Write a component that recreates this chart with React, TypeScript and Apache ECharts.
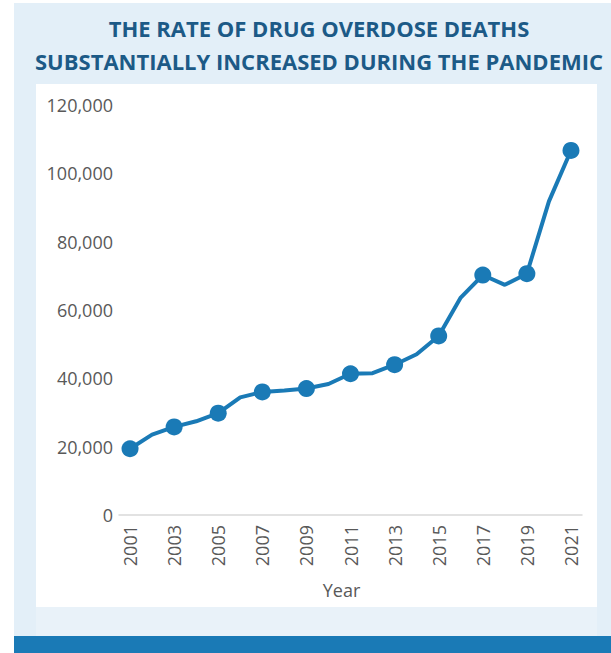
import React, { useEffect, useRef } from "react";
import * as echarts from "echarts";

const years = ["2001","2002","2003","2004","2005","2006","2007","2008","2009","2010","2011","2012","2013","2014","2015","2016","2017","2018","2019","2020","2021"];
const deaths = [19394,23518,25785,27424,29813,34425,36010,36450,37004,38329,41340,41502,43982,47055,52404,63632,70237,67367,70630,91799,106699];
const titleLines = ["THE RATE OF DRUG OVERDOSE DEATHS", "SUBSTANTIALLY INCREASED DURING THE PANDEMIC"];
const yTicks = { min: 0, max: 120000, interval: 20000 };

const BLUE = "#1a7ab6";
const FONT = "'Open Sans', sans-serif";

export default function App() {
  const ref = useRef<HTMLDivElement>(null);
  useEffect(() => {
    const chart = echarts.init(ref.current!, null, { renderer: "svg" });
    chart.setOption({
      animation: false,
      backgroundColor: "#ffffff",
      graphic: [
        { type: "rect", z: -10, shape: { x: 14, y: 3, width: 597, height: 633 }, style: { fill: "#e3eff8" } },
        { type: "rect", z: -9, shape: { x: 36, y: 607, width: 561, height: 29 }, style: { fill: "#e9f2f9" } },
        { type: "rect", z: -9, shape: { x: 36, y: 84, width: 561, height: 523 }, style: { fill: "#ffffff" } },
        { type: "rect", z: -9, shape: { x: 14, y: 636, width: 597, height: 17 }, style: { fill: BLUE } },
        { type: "text", z: 10, x: 319, y: 28, style: { text: titleLines[0], fill: "#1c5a87", font: `bold 22px ${FONT}`, textAlign: "center", textVerticalAlign: "middle" } },
        { type: "text", z: 10, x: 319, y: 61, style: { text: titleLines[1], fill: "#1c5a87", font: `bold 22px ${FONT}`, textAlign: "center", textVerticalAlign: "middle" } },
      ],
      grid: { left: 119, right: 29, top: 105, bottom: 138 },
      xAxis: {
        type: "category",
        data: years,
        boundaryGap: true,
        axisLine: { lineStyle: { color: "#d9d9d9", width: 1.5 } },
        axisTick: { show: false },
        axisLabel: { rotate: 90, interval: 1, margin: 10, color: "#595959", fontSize: 18, fontFamily: FONT },
        name: "Year",
        nameLocation: "middle",
        nameGap: 66,
        nameTextStyle: { color: "#595959", fontSize: 18, fontFamily: FONT, padding: [0, 18, 0, 0] },
      },
      yAxis: {
        type: "value",
        min: yTicks.min,
        max: yTicks.max,
        interval: yTicks.interval,
        splitLine: { show: false },
        axisLine: { show: false },
        axisTick: { show: false },
        axisLabel: {
          margin: 6,
          color: "#595959",
          fontSize: 18,
          fontFamily: FONT,
          formatter: (v: number) => v.toLocaleString("en-US"),
        },
      },
      series: [
        {
          type: "line",
          data: deaths.map((v, i) => (i % 2 === 0 ? { value: v } : { value: v, symbol: "none" })),
          symbol: "circle",
          symbolSize: 17,
          showAllSymbol: true,
          lineStyle: { color: BLUE, width: 4 },
          itemStyle: { color: BLUE },
        },
      ],
    });
    return () => chart.dispose();
  }, []);
  return <div ref={ref} style={{ position: "fixed", left: 0, top: 0, width: 611, height: 653 }} />;
}
